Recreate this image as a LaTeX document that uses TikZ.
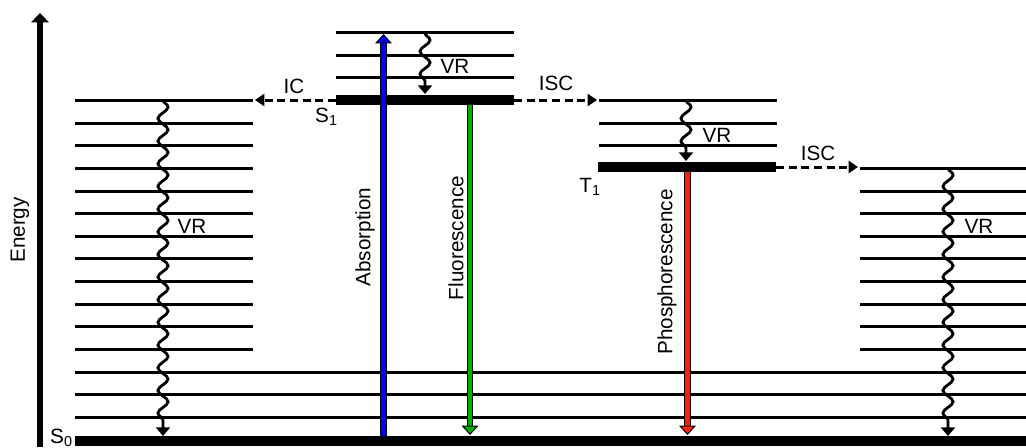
\documentclass[tikz,border=0pt]{standalone}
\usepackage{fontspec}
\setmainfont{Liberation Sans}
\usepackage{xcolor}
\usetikzlibrary{arrows.meta, decorations.pathmorphing, positioning}

\definecolor{absblue}{RGB}{0,0,255}
\definecolor{flgreen}{RGB}{0,176,0}
\definecolor{phred}{RGB}{255,32,0}

\tikzset{
	level/.style={line width=2.25pt},
	statebar/.style={line width=7.5pt},
	lbl/.style={font=\fontsize{15.5}{18}\selectfont, inner sep=0pt},
	vr/.style={line width=2.1pt, decorate, decoration={snake, amplitude=3.8pt, segment length=17pt, post length=6pt}, -{Triangle[length=6.5pt, width=10.5pt]}},
	crossing/.style={line width=2.25pt, dash pattern=on 6pt off 3.5pt, -{Triangle[length=7pt, width=9pt]}},
	photon/.style={draw=#1, line width=3.4pt, -{Triangle[length=7pt, width=12.5pt, color=black, fill=#1, line width=0.75pt]}, preaction={draw=black, line width=5pt, arrows=-, shorten >=6pt}},
}

\begin{document}
\begin{tikzpicture}[x=0.75pt, y=-0.75pt]
		\useasboundingbox (0,0) rectangle (1026,447);
		
		% Energy axis
		\coordinate (ebot) at (40,447);
		\coordinate (etop) at (40,13);
		\draw[line width=5pt, -{Triangle[length=7pt, width=13pt]}] (ebot) -- (etop);
		\node[lbl, rotate=90] (energy) at (20,230) {Energy};
		
		% S0 levels
		\draw[level] (75,100) -- (253,100);
		\draw[level] (75,123) -- (253,123);
		\draw[level] (75,145) -- (253,145);
		\draw[level] (75,168) -- (253,168) (860,168) -- (1026,168);
		\draw[level] (75,191) -- (253,191) (860,191) -- (1026,191);
		\draw[level] (75,213) -- (253,213) (860,213) -- (1026,213);
		\draw[level] (75,236) -- (253,236) (860,236) -- (1026,236);
		\draw[level] (75,258) -- (253,258) (860,258) -- (1026,258);
		\draw[level] (75,281) -- (253,281) (860,281) -- (1026,281);
		\draw[level] (75,304) -- (253,304) (860,304) -- (1026,304);
		\draw[level] (75,326) -- (253,326) (860,326) -- (1026,326);
		\draw[level] (75,349) -- (253,349) (860,349) -- (1026,349);
		\draw[level] (75,372) -- (1026,372);
		\draw[level] (75,394) -- (1026,394);
		\draw[level] (75,417) -- (1026,417);
		\draw[statebar] (75,441) -- (1026,441);
		
		% S1 levels
		\draw[level] (336,32) -- (514,32);
		\draw[level] (336,55) -- (514,55);
		\draw[level] (336,77) -- (514,77);
		\draw[statebar] (336,100) -- (514,100);
		
		% T1 levels
		\draw[level] (599,100) -- (777,100);
		\draw[level] (599,123) -- (777,123);
		\draw[level] (599,145) -- (777,145);
		\draw[statebar] (598,167) -- (776,167);
		
		% State names
		\node[lbl, anchor=base east] (S0) at (73,443) {S\textsubscript{0}};
		\node[lbl, anchor=base east] (S1) at (338,122) {S\textsubscript{1}};
		\node[lbl, anchor=base east] (T1) at (601,192) {T\textsubscript{1}};
		
		% Radiative transitions
		\coordinate (absbot) at (383.5,436);
		\coordinate (abstop) at (383.5,34);
		\coordinate (flutop) at (470,105);
		\coordinate (flubot) at (470,435);
		\coordinate (phostop) at (687.5,172);
		\coordinate (phosbot) at (687.5,435);
		\draw[photon=absblue] (absbot) -- (abstop);
		\draw[photon=flgreen] (flutop) -- (flubot);
		\draw[photon=phred] (phostop) -- (phosbot);
		\node[lbl, rotate=90] (absorption) at (365,237) {Absorption};
		\node[lbl, rotate=90] (fluorescence) at (456,238) {Fluorescence};
		\node[lbl, rotate=90] (phosphorescence) at (667,272) {Phosphorescence};
		
		% Vibrational relaxation
		\coordinate (vr1a) at (163,100);
		\coordinate (vr1b) at (163,436);
		\coordinate (vr2a) at (425,33);
		\coordinate (vr2b) at (425,94);
		\coordinate (vr3a) at (686,100);
		\coordinate (vr3b) at (686,161);
		\coordinate (vr4a) at (948,168);
		\coordinate (vr4b) at (948,436);
		\draw[vr] (vr1a) -- (vr1b);
		\draw[vr] (vr2a) -- (vr2b);
		\draw[vr] (vr3a) -- (vr3b);
		\draw[vr] (vr4a) -- (vr4b);
		\node[lbl] (vrlabel1) at (192,226) {VR};
		\node[lbl] (vrlabel2) at (455,66) {VR};
		\node[lbl] (vrlabel3) at (717,135) {VR};
		\node[lbl] (vrlabel4) at (979,226) {VR};
		
		% IC and ISC
		\coordinate (ica) at (336,100);
		\coordinate (icb) at (255,100);
		\coordinate (isc1a) at (514,100);
		\coordinate (isc1b) at (597,100);
		\coordinate (isc2a) at (776,167);
		\coordinate (isc2b) at (858,167);
		\draw[crossing] (ica) -- (icb);
		\draw[crossing] (isc1a) -- (isc1b);
		\draw[crossing] (isc2a) -- (isc2b);
		\node[lbl] (iclabel) at (294,86) {IC};
		\node[lbl] (isclabel1) at (556,83) {ISC};
		\node[lbl] (isclabel2) at (818,153) {ISC};
	\end{tikzpicture}
\end{document}
